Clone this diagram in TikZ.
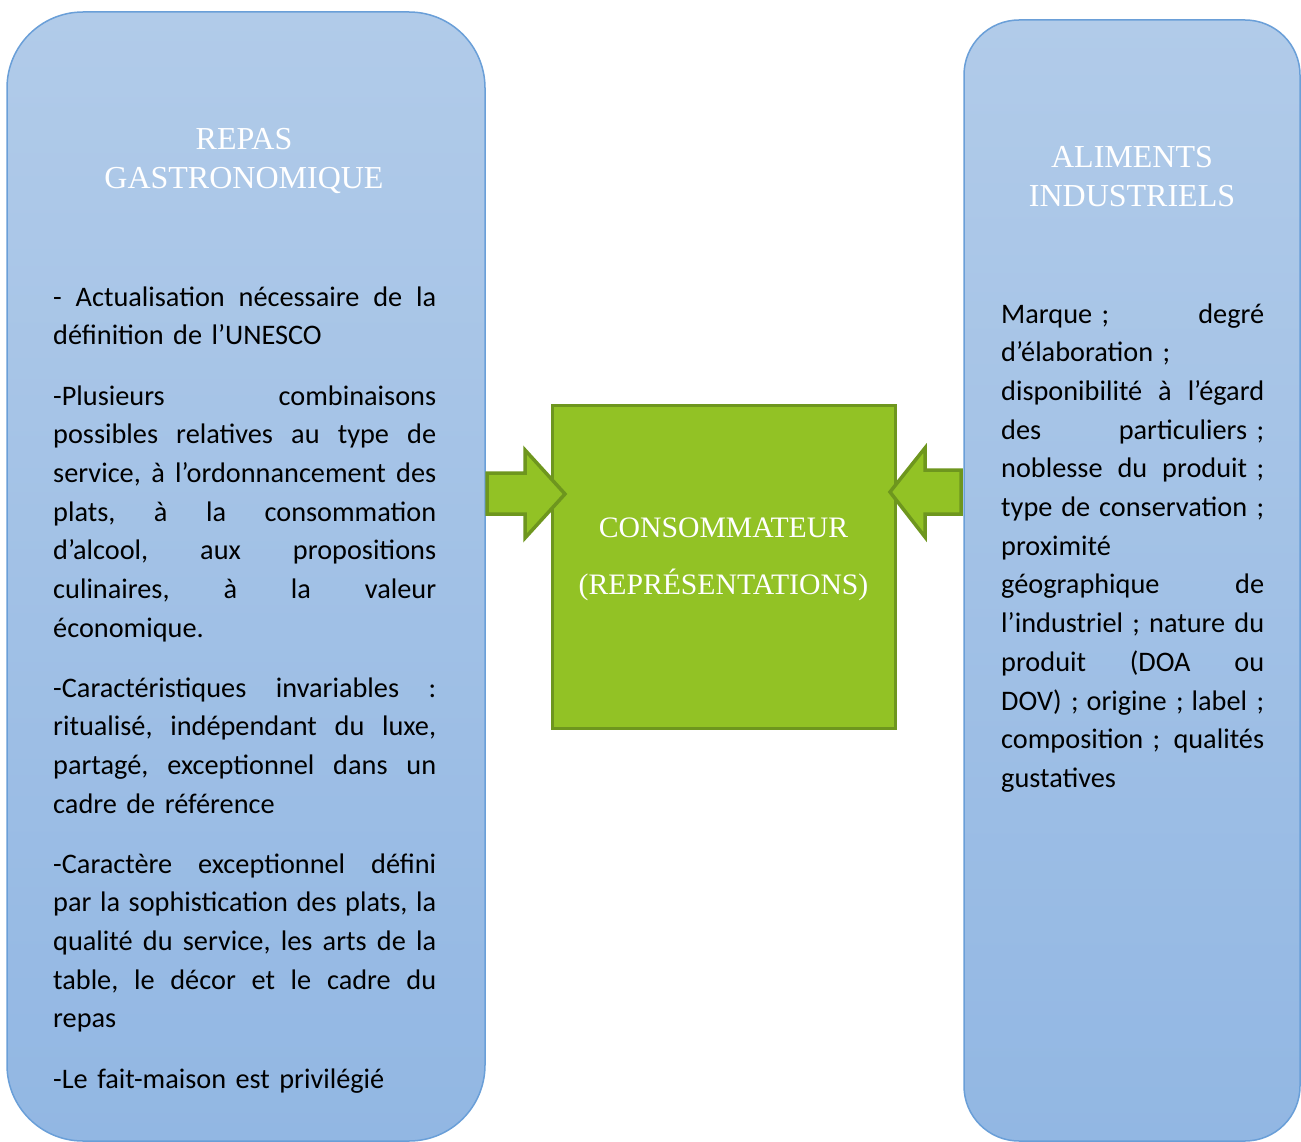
\documentclass[tikz,border=0pt]{standalone}
\usepackage{fontspec}
\setmainfont{Liberation Serif}
\newfontfamily\calib{Carlito}
\definecolor{boxtop}{HTML}{B1CBE9}
\definecolor{boxbot}{HTML}{92B7E3}
\definecolor{boxline}{HTML}{6A9FD8}
\definecolor{grfill}{HTML}{92C225}
\definecolor{grline}{HTML}{6E961E}
\newlength\jlw
\newcommand\jl[1]{\leavevmode\hbox to \jlw{#1}\par}
\newcommand\gs{\hskip 0.226em plus 1fill minus 0.1em\relax}
\tikzset{
  bluebox/.style={draw=boxline, line width=1.5pt, top color=boxtop, bottom color=boxbot},
  titletext/.style={text=white, font=\fontsize{32}{39}\selectfont, align=center, anchor=base},
  bodytext/.style={text=black, font=\calib\fontsize{28.3}{38.7}\selectfont, inner sep=0pt, anchor=base west, align=left},
  greenbox/.style={draw=grline, fill=grfill, line width=3pt},
  blockarrow/.style={draw=grline, fill=grfill, line width=3.5pt, line join=miter},
}
\begin{document}
\begin{tikzpicture}[x=1pt, y=-1pt]
\useasboundingbox (0,0) rectangle (1301,1142);
\clip (0,0) rectangle (1301,1142);
\fill[white] (0,0) rectangle (1301,1142);
% boxes
\draw[bluebox, rounded corners=76pt] (7,12) rectangle (485,1141);
\draw[bluebox, rounded corners=55pt] (964,20) rectangle (1300,1141);
\draw[greenbox] (552,405) rectangle (895,728);
% arrows
\draw[blockarrow] (487,473) -- (525,473) -- (525,450) -- (565,494) -- (525,538) -- (525,514) -- (487,514) -- cycle;
\draw[blockarrow] (961,470) -- (925,470) -- (925,448) -- (890,492) -- (925,537) -- (925,514) -- (961,514) -- cycle;
% titles
\node[titletext] (t1a) at (244,150) {REPAS};
\node[titletext] (t1b) at (244,189) {GASTRONOMIQUE};
\node[titletext] (t2a) at (1132,168) {ALIMENTS};
\node[titletext] (t2b) at (1132,207) {INDUSTRIELS};
\node[titletext, font=\fontsize{29.7}{57}\selectfont] (c1) at (723.5,537) {CONSOMMATEUR};
\node[titletext, font=\fontsize{29.7}{57}\selectfont] (c2) at (723.5,594) {(REPRÉSENTATIONS)};
% left body
\setlength\jlw{383pt}
\node[bodytext, text width=383pt] (p1) at (53,306) {\jl{-\gs Actualisation\gs nécessaire\gs de\gs la}définition de l’UNESCO};
\node[bodytext, text width=383pt] (p2) at (53,405) {\jl{-Plusieurs\gs combinaisons}\jl{possibles\gs relatives\gs au\gs type\gs de}\jl{service,\gs à\gs l’ordonnancement\gs des}\jl{plats,\gs à\gs la\gs consommation}\jl{d’alcool,\gs aux\gs propositions}\jl{culinaires,\gs à\gs la\gs valeur}économique.};
\node[bodytext, text width=383pt] (p3) at (53,697) {\jl{-Caractéristiques\gs invariables\gs :}\jl{ritualisé,\gs indépendant\gs du\gs luxe,}\jl{partagé,\gs exceptionnel\gs dans\gs un}cadre de référence};
\node[bodytext, text width=383pt] (p4) at (53,873) {\jl{-Caractère\gs exceptionnel\gs défini}\jl{par\gs la\gs sophistication\gs des\gs plats,\gs la}\jl{qualité\gs du\gs service,\gs les\gs arts\gs de\gs la}\jl{table,\gs le\gs décor\gs et\gs le\gs cadre\gs du}repas};
\node[bodytext, text width=383pt] (p5) at (53,1088) {-Le fait-maison est privilégié};
% right body
\setlength\jlw{263pt}
\node[bodytext, text width=263pt] (r1) at (1001,323) {\jl{Marque ;\gs degré}\jl{d’élaboration ;\hfil}\jl{disponibilité\gs à\gs l’égard}\jl{des\gs particuliers ;}\jl{noblesse\gs du\gs produit ;}\jl{type\gs de\gs conservation ;}\jl{proximité\hfil}\jl{géographique\gs de}\jl{l’industriel ;\gs nature\gs du}\jl{produit\gs (DOA\gs ou}\jl{DOV) ;\gs origine ;\gs label ;}\jl{composition ;\gs qualités}gustatives};
\end{tikzpicture}
\end{document}
